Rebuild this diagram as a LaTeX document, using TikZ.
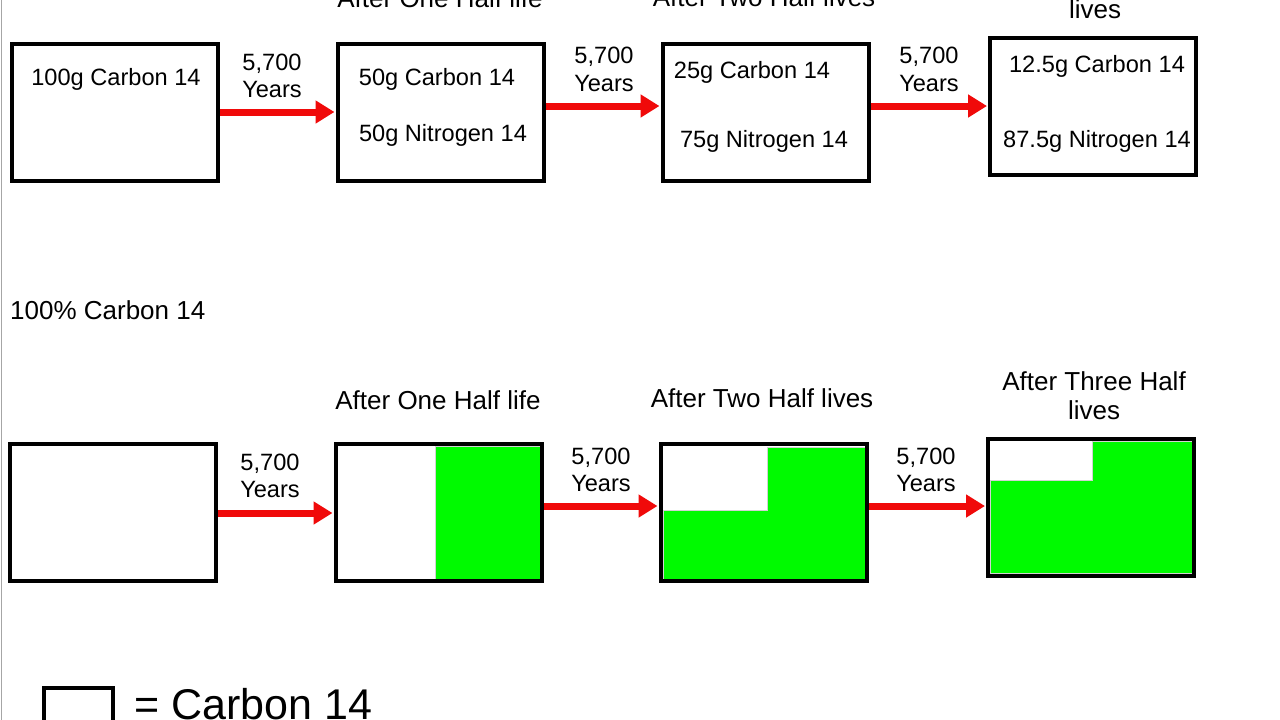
\documentclass[tikz,border=0pt]{standalone}
\usepackage{fontspec}
\setmainfont{Liberation Sans}
\usetikzlibrary{arrows.meta}
\definecolor{grn}{RGB}{0,250,0}
\definecolor{arrred}{RGB}{240,10,10}
\begin{document}
\begin{tikzpicture}[x=1pt,y=-1pt,
  box/.style={draw, line width=4pt, minimum width=206pt, minimum height=137pt, inner sep=0pt},
  lbl/.style={font=\fontsize{23.6}{28}\selectfont, inner sep=0pt, anchor=base},
  ttl/.style={font=\fontsize{26}{30}\selectfont, inner sep=0pt, anchor=base},
  arr/.style={draw=arrred, line width=7pt, -{Triangle[length=19pt,width=22pt]}, shorten >=1pt},
  grnfill/.style={fill=grn, draw=gray!35, line width=1pt}]
\useasboundingbox (0,0) rectangle (1280,720);
\fill[white] (0,0) rectangle (1280,720);
\begin{scope}
\clip (0,0) rectangle (1280,720);
\draw[gray!70, line width=1pt] (1.5,0) -- (1.5,720);

% ---------- top row ----------
\node[box] (A) at (115,112.5) {};
\node[box] (B) at (440.5,112.5) {};
\node[box] (C) at (765.5,112.5) {};
\node[box] (D) at (1093,106) {};

\node[lbl] (tA) at (116,85) {100g Carbon 14};
\node[lbl] (tB1) at (437,85) {50g Carbon 14};
\node[lbl] (tB2) at (443,141) {50g Nitrogen 14};
\node[lbl] (tC1) at (752,78) {25g Carbon 14};
\node[lbl] (tC2) at (764,147) {75g Nitrogen 14};
\node[lbl] (tD1) at (1097,72) {12.5g Carbon 14};
\node[lbl] (tD2) at (1097,147) {87.5g Nitrogen 14};

\node[ttl] (hB) at (440,8) {After One Half life};
\node[ttl] (hC) at (764,6) {After Two Half lives};
\node[ttl] (hD1) at (1095,-11) {After Three Half};
\node[ttl] (hD2) at (1095,18) {lives};

\draw[arr] (A.east |- 0,112) -- (B.west |- 0,112);
\draw[arr] (B.east |- 0,106) -- (C.west |- 0,106);
\draw[arr] (C.east |- 0,106) -- (D.west |- 0,106);

\node[lbl] (y1a) at (272,70) {5,700};
\node[lbl] (y1b) at (272,97) {Years};
\node[lbl] (y2a) at (604,63) {5,700};
\node[lbl] (y2b) at (604,91) {Years};
\node[lbl] (y3a) at (929,63) {5,700};
\node[lbl] (y3b) at (929,91) {Years};

% ---------- middle label ----------
\node[ttl, anchor=base west] (pc) at (10,319) {100\% Carbon 14};

% ---------- bottom row ----------
\fill[grnfill] (435,446) rectangle (540,579);
\fill[grnfill] (663,510) -- (767,510) -- (767,447) -- (865,447) -- (865,579) -- (663,579) -- cycle;
\fill[grnfill] (990,480) -- (1092,480) -- (1092,441) -- (1192,441) -- (1192,573) -- (990,573) -- cycle;
\path[draw=gray!35, line width=1pt] (435,446) rectangle (540,579);

\node[box] (A2) at (113,512.5) {};
\node[box] (B2) at (438.5,512.5) {};
\node[box] (C2) at (763.5,512.5) {};
\node[box] (D2) at (1091,507) {};

\node[ttl] (hB2) at (438,409) {After One Half life};
\node[ttl] (hC2) at (762,407) {After Two Half lives};
\node[ttl] (hD2a) at (1094,390) {After Three Half};
\node[ttl] (hD2b) at (1094,419) {lives};

\draw[arr] (A2.east |- 0,513) -- (B2.west |- 0,513);
\draw[arr] (B2.east |- 0,506) -- (C2.west |- 0,506);
\draw[arr] (C2.east |- 0,506) -- (D2.west |- 0,506);

\node[lbl] (z1a) at (270,470) {5,700};
\node[lbl] (z1b) at (270,497) {Years};
\node[lbl] (z2a) at (601,464) {5,700};
\node[lbl] (z2b) at (601,491) {Years};
\node[lbl] (z3a) at (926,464) {5,700};
\node[lbl] (z3b) at (926,491) {Years};

% ---------- legend ----------
\node[draw, line width=4pt, minimum width=69pt, minimum height=69pt, inner sep=0pt] (L) at (78.5,722.5) {};
\node[font=\fontsize{43}{50}\selectfont, inner sep=0pt, anchor=base west] (Lt) at (134,719) {= Carbon 14};
\end{scope}
\end{tikzpicture}
\end{document}
